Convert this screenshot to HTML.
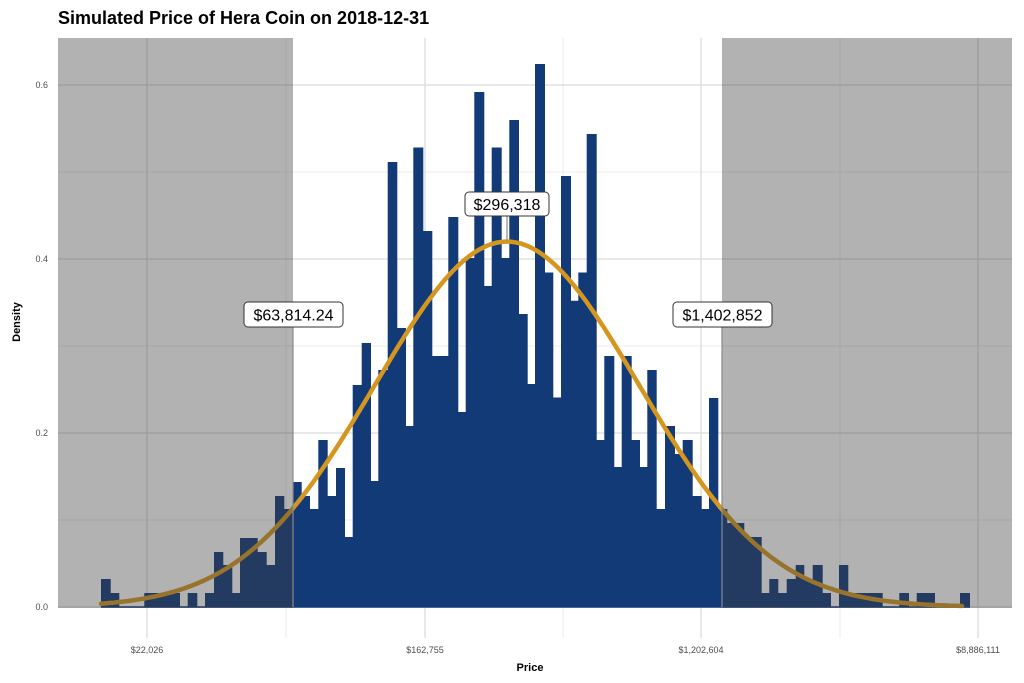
<!DOCTYPE html>
<html><head><meta charset="utf-8"><style>
html,body{margin:0;padding:0;background:#fff;}
svg{display:block;font-family:"Liberation Sans",sans-serif;}
</style></head><body>
<svg width="1024" height="683" viewBox="0 0 1024 683" xmlns="http://www.w3.org/2000/svg">
<rect width="1024" height="683" fill="#fff"/>
<!-- grid -->
<g stroke="#ebebeb" stroke-width="1">
<line x1="58" x2="1012" y1="520" y2="520"/><line x1="58" x2="1012" y1="346" y2="346"/><line x1="58" x2="1012" y1="172" y2="172"/>
<line x1="286" x2="286" y1="38" y2="638"/><line x1="563" x2="563" y1="38" y2="638"/><line x1="840" x2="840" y1="38" y2="638"/>
</g>
<g stroke="#e0e0e0" stroke-width="1.5">
<line x1="58" x2="1012" y1="607" y2="607"/><line x1="58" x2="1012" y1="433" y2="433"/><line x1="58" x2="1012" y1="259" y2="259"/><line x1="58" x2="1012" y1="85" y2="85"/>
<line x1="147" x2="147" y1="38" y2="638"/><line x1="425" x2="425" y1="38" y2="638"/><line x1="701" x2="701" y1="38" y2="638"/><line x1="978" x2="978" y1="38" y2="638"/>
</g>
<!-- bars -->
<g fill="#123a77" id="bars">
<path d="M101 607V579H110.7V593H119.3V607H144.3V593H180V607H187.7V593H197.3V607H205V593H214V552H223.3V565H232.3V593H240V538H257.7V552H266.7V565H275V496H284.3V509H293.3V482H301.7V496H310V509H318.3V440H327.7V496H336V468H345V537H352.7V385H361.7V343H371V481H378.3V370H387.7V162H397.3V328H406V426H413.3V147.5H423.3V231H432.3V356H448.3V217H458.3V412H465.7V258H474.3V92H484.3V286H491.7V147.5H501.7V258H509.3V120H519V314H527.7V384H535V64H545V272.5H553.3V397.5H561V176H571V300.7H578.3V272.5H586.7V134H596.7V440H604.3V356H614.3V467H621.7V356H631.7V440H640V467H647.3V370H656.7V509H665V426H675V454H682.7V440H692.7V496H701.7V509H709V398H718.3V509H727.3V523H744.3V537H761.7V593H769.3V579H778.3V593H786.7V579H795.7V565H804.3V579H812.7V565H822.7V593H831V607H839V565H848.3V593H882.7V607H899.3V593H909V607H916.7V593H935V607H960V593H970V607Z"/>
</g>
<line x1="101" x2="970" y1="607" y2="607" stroke="#123a77" stroke-width="1.5"/>
<!-- curve -->
<path id="curve" fill="none" stroke="#d4961e" stroke-width="4.5" stroke-linecap="round" d=""/>
<!-- shading -->
<rect x="58" y="38" width="235" height="570" fill="rgb(62,62,62)" fill-opacity="0.4"/>
<rect x="722" y="38" width="290" height="570" fill="rgb(62,62,62)" fill-opacity="0.4"/>
<g stroke="#8a8a8a" stroke-width="1.2">
<line x1="293" x2="293" y1="326" y2="607"/><line x1="722" x2="722" y1="326" y2="607"/><line x1="507" x2="507" y1="216" y2="241"/>
</g>
<!-- labels -->
<g font-size="16" text-anchor="middle" fill="#000">
<rect x="244" y="302" width="99" height="25" rx="4" fill="#fff" stroke="#333" stroke-width="1"/>
<text x="293.5" y="320.5">$63,814.24</text>
<rect x="673" y="302" width="99" height="25" rx="4" fill="#fff" stroke="#333" stroke-width="1"/>
<text x="722.5" y="320.5">$1,402,852</text>
<rect x="465" y="192" width="84" height="24" rx="4" fill="#fff" stroke="#333" stroke-width="1"/>
<text x="507" y="210">$296,318</text>
</g>
<!-- axes text -->
<text x="58" y="24" font-size="18" font-weight="bold" fill="#000">Simulated Price of Hera Coin on 2018-12-31</text>
<g font-size="9" fill="#4d4d4d" text-anchor="end">
<text x="48" y="610">0.0</text><text x="48" y="436">0.2</text><text x="48" y="262">0.4</text><text x="48" y="88">0.6</text>
</g>
<g font-size="9" fill="#4d4d4d" text-anchor="middle">
<text x="147" y="653">$22,026</text><text x="425" y="653">$162,755</text><text x="701" y="653">$1,202,604</text><text x="978" y="653">$8,886,111</text>
</g>
<text x="530" y="671" font-size="11" font-weight="bold" text-anchor="middle">Price</text>
<text transform="translate(20,322) rotate(-90)" font-size="11" font-weight="bold" text-anchor="middle">Density</text>
<script>
(function(){var d="";for(var x=101;x<=962;x+=3){var y=607-0.42*870*Math.exp(-Math.pow(x-507,2)/(2*17509));d+=(x==101?"M":"L")+x+" "+y.toFixed(1)+" ";}
document.getElementById("curve").setAttribute("d",d);})();
</script>
</svg>
</body></html>
